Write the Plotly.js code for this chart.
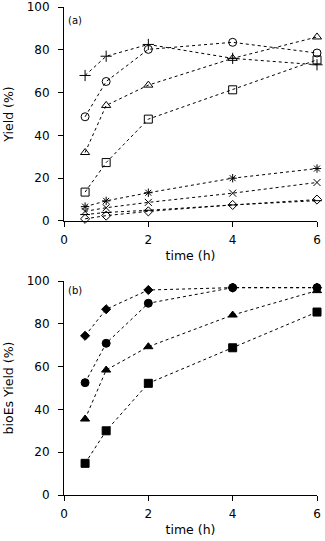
<!DOCTYPE html>
<html>
<head>
<meta charset="utf-8">
<script src="https://cdn.plot.ly/plotly-3.0.1.min.js"></script>
<style>
  html, body { margin: 0; padding: 0; background: #fff; }
  #chart { width: 325px; height: 541px; }
</style>
</head>
<body>
<div id="chart"></div>
<script>
// time points (h)
const hours = [0.5, 1, 2, 4, 6]

// panel (a) yields (%)
const a_plus     = [68, 77, 82.5, 76, 73]
const a_circle   = [48.7, 65.2, 80.2, 83.5, 78.5]
const a_triangle = [32, 54, 63.5, 76, 86]
const a_square   = [13.5, 27.3, 47.6, 61.3, 75.3]
const a_asterisk = [6.7, 9.4, 13.2, 20, 24.5]
const a_cross    = [4.5, 6.2, 8.7, 13, 18]
const a_dash     = [3, 4, 5, 7.5, 9.5]
const a_diamond  = [1, 2.5, 4.5, 7.5, 10]

// panel (b) bioEs yields (%)
const b_diamond  = [74.4, 86.8, 95.8, 96.9, 96.9]
const b_circle   = [52.5, 70.9, 89.6, 96.9, 96.9]
const b_triangle = [35.5, 58.4, 69.3, 84.1, 95.5]
const b_square   = [14.8, 30, 52.2, 68.8, 85.5]

const dash_line = { color: '#000', width: 1, dash: 'dot' }

const trace = (y, symbol, size, axis) => ({
    x: hours,
    y: y,
    xaxis: axis === 'a' ? 'x' : 'x2',
    yaxis: axis === 'a' ? 'y' : 'y2',
    type: 'scatter',
    mode: 'lines+markers',
    line: dash_line,
    marker: { symbol: symbol, size: size, color: '#000', line: { color: '#000', width: 1 } },
    cliponaxis: false,
    showlegend: false
})

const data = [
    trace(a_dash, 'line-ew-open', 7, 'a'),
    trace(a_diamond, 'diamond-open', 7, 'a'),
    trace(a_cross, 'x-thin-open', 7, 'a'),
    trace(a_asterisk, 'asterisk-open', 7, 'a'),
    trace(a_square, 'square-open', 8, 'a'),
    trace(a_triangle, 'triangle-up-open', 8, 'a'),
    trace(a_circle, 'circle-open', 8, 'a'),
    trace(a_plus, 'cross-thin-open', 8, 'a'),
    trace(b_square, 'square', 8, 'b'),
    trace(b_triangle, 'triangle-up', 8, 'b'),
    trace(b_diamond, 'diamond', 7, 'b'),
    trace(b_circle, 'circle', 8, 'b'),
]

const font_family = 'DejaVu Sans, Liberation Sans, Arial, sans-serif'
const tickfont  = { family: font_family, size: 12, color: '#000' }
const titlefont = { family: font_family, size: 12.5, color: '#000' }

const xaxis_common = {
    range: [0, 6],
    tickvals: [0, 2, 4, 6],
    ticks: 'outside',
    ticklen: 5,
    tickcolor: '#000',
    showline: true,
    linecolor: '#000',
    linewidth: 1,
    showgrid: false,
    zeroline: false,
    tickfont: tickfont,
    ticklabelstandoff: 3,
    title: { text: 'time (h)', font: titlefont, standoff: 4 }
}

const yaxis_common = {
    range: [0, 100],
    tickvals: [0, 20, 40, 60, 80, 100],
    ticks: 'outside',
    ticklen: 5,
    tickcolor: '#000',
    showline: true,
    linecolor: '#000',
    linewidth: 1,
    showgrid: false,
    zeroline: false,
    tickfont: tickfont,
    ticklabelstandoff: 6,
    ticklabeloverflow: 'allow'
}

const layout = {
    width: 325,
    height: 541,
    margin: { l: 64, r: 8, t: 7, b: 46 },
    paper_bgcolor: '#fff',
    plot_bgcolor: '#fff',
    showlegend: false,
    xaxis: Object.assign({}, xaxis_common, { domain: [0, 1], anchor: 'y' }),
    yaxis: Object.assign({}, yaxis_common, { domain: [0.5615, 1], anchor: 'x',
        title: { text: 'Yield (%)', font: titlefont, standoff: 10 } }),
    xaxis2: Object.assign({}, xaxis_common, { domain: [0, 1], anchor: 'y2' }),
    yaxis2: Object.assign({}, yaxis_common, { domain: [0, 0.4385], anchor: 'x2',
        title: { text: 'bioEs Yield (%)', font: titlefont, standoff: 10 } }),
    annotations: [
        { text: '(a)', xref: 'x domain', yref: 'y domain', x: 0.008, y: 0.935,
          xanchor: 'left', yanchor: 'middle', showarrow: false,
          font: { family: font_family, size: 10, color: '#000' } },
        { text: '(b)', xref: 'x2 domain', yref: 'y2 domain', x: 0.008, y: 0.955,
          xanchor: 'left', yanchor: 'middle', showarrow: false,
          font: { family: font_family, size: 10, color: '#000' } }
    ]
}

Plotly.newPlot('chart', data, layout, { displayModeBar: false, staticPlot: true })
</script>
</body>
</html>
